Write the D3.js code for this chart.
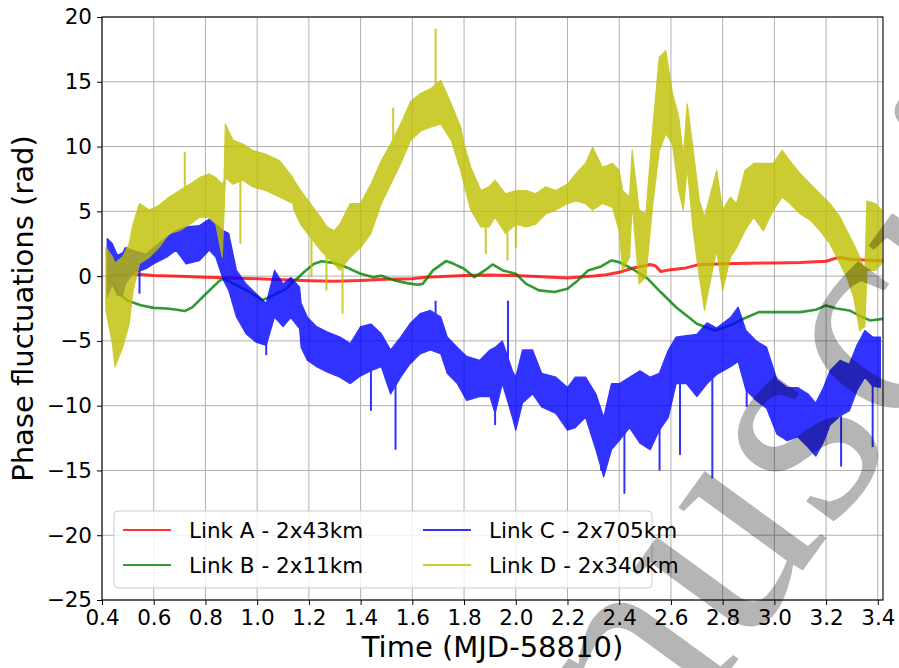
<!DOCTYPE html>
<html><head><meta charset="utf-8">
<script src="https://cdn.jsdelivr.net/npm/d3@7"></script>
<style>body{margin:0;background:#fff}svg{display:block}</style>
</head><body>
<svg id="chart" width="899" height="668"></svg>
<script>
// ---------- data ----------
const xTicks = [0.4,0.6,0.8,1.0,1.2,1.4,1.6,1.8,2.0,2.2,2.4,2.6,2.8,3.0,3.2,3.4];
const yTicks = [-25,-20,-15,-10,-5,0,5,10,15,20];
const seriesNames = ["Link A - 2x43km","Link B - 2x11km","Link C - 2x705km","Link D - 2x340km"];
const seriesColors = ["#ff0000","#008000","#0000ff","#bfbf00"];

// Link A [time, phase]
const linkA = [[0.42,0.05],[0.45,0.1],[0.5,0.12],[0.55,0.12],[0.6,0.05],[0.7,-0.02],[0.8,-0.08],[0.9,-0.15],[1.0,-0.2],[1.1,-0.28],[1.2,-0.35],[1.3,-0.4],[1.4,-0.33],[1.5,-0.25],[1.6,-0.2],[1.65,-0.08],[1.7,-0.05],[1.8,0.05],[1.9,0.08],[2.0,0.05],[2.1,-0.05],[2.2,-0.15],[2.3,0.0],[2.35,0.1],[2.4,0.3],[2.45,0.6],[2.5,0.8],[2.52,0.9],[2.54,0.8],[2.56,0.35],[2.6,0.5],[2.65,0.6],[2.7,0.85],[2.8,0.95],[2.9,1.0],[3.0,1.02],[3.1,1.05],[3.2,1.15],[3.24,1.4],[3.26,1.42],[3.3,1.28],[3.42,1.18]];

// Link B [time, phase]
const linkB = [[0.42,-0.1],[0.44,-0.6],[0.46,-1.2],[0.48,-1.6],[0.5,-1.9],[0.55,-2.25],[0.6,-2.45],[0.65,-2.5],[0.69,-2.6],[0.72,-2.7],[0.75,-2.4],[0.8,-1.4],[0.855,-0.35],[0.87,-0.2],[0.91,-0.6],[0.96,-1.1],[1.02,-1.85],[1.05,-1.6],[1.11,-1.0],[1.14,-0.4],[1.16,-0.1],[1.18,0.3],[1.22,0.95],[1.25,1.15],[1.3,1.0],[1.35,0.64],[1.4,0.18],[1.45,-0.08],[1.48,0.03],[1.53,-0.33],[1.58,-0.54],[1.62,-0.67],[1.64,-0.6],[1.68,0.44],[1.73,1.16],[1.76,0.95],[1.8,0.57],[1.84,-0.08],[1.88,0.44],[1.91,0.9],[1.95,0.44],[2.0,0.18],[2.04,-0.6],[2.09,-1.1],[2.15,-1.23],[2.2,-0.98],[2.24,-0.33],[2.28,0.44],[2.33,0.75],[2.37,1.21],[2.4,1.08],[2.45,0.57],[2.51,-0.2],[2.56,-1.23],[2.62,-2.4],[2.67,-3.2],[2.7,-3.68],[2.75,-4.06],[2.77,-4.2],[2.83,-3.8],[2.88,-3.29],[2.94,-2.78],[3.0,-2.78],[3.1,-2.78],[3.16,-2.6],[3.2,-2.26],[3.24,-2.5],[3.29,-2.65],[3.34,-3.16],[3.37,-3.42],[3.42,-3.3]];

// Link C noise band [time, low, high]
const linkCBand = [[0.42,-1.6,2.9],[0.44,-0.6,2.5],[0.46,-1.5,1.6],[0.48,-1.5,1.8],[0.49,-0.6,2.2],[0.52,0.2,2.0],[0.57,0.57,1.7],[0.6,0.95,2.2],[0.65,1.46,3.0],[0.686,2.0,3.5],[0.725,0.95,3.8],[0.777,1.2,3.9],[0.815,2.0,4.4],[0.84,1.46,4.0],[0.87,-0.33,3.5],[0.89,-1.1,3.3],[0.92,-3.16,0.44],[0.957,-4.45,-0.6],[0.996,-5.1,-1.36],[1.035,-5.35,-2.1],[1.067,-3.16,0.44],[1.1,-3.9,-0.6],[1.13,-3.2,-0.1],[1.164,-4.06,-0.85],[1.17,-5.5,-2.1],[1.194,-6.5,-3.16],[1.23,-7.0,-3.9],[1.27,-7.4,-4.3],[1.32,-7.8,-4.7],[1.36,-8.3,-5.2],[1.4,-7.7,-3.9],[1.44,-7.3,-3.7],[1.48,-7.0,-4.45],[1.516,-9.1,-5.7],[1.555,-7.8,-4.7],[1.59,-6.8,-3.7],[1.63,-6.0,-2.9],[1.67,-5.7,-2.65],[1.71,-6.0,-3.16],[1.735,-7.5,-4.7],[1.774,-8.3,-5.5],[1.81,-9.6,-6.2],[1.86,-9.3,-6.5],[1.9,-9.3,-5.7],[1.92,-10.6,-5.5],[1.948,-8.3,-5.0],[1.987,-10.9,-7.3],[2.0,-11.9,-7.8],[2.026,-9.8,-5.7],[2.065,-9.1,-5.7],[2.1,-10.1,-7.5],[2.155,-10.6,-7.8],[2.2,-11.9,-8.6],[2.23,-11.7,-7.8],[2.27,-10.9,-7.8],[2.31,-13.4,-9.1],[2.34,-15.5,-10.9],[2.37,-13.4,-8.3],[2.4,-12.7,-8.3],[2.44,-11.7,-7.8],[2.48,-12.9,-7.3],[2.52,-13.4,-7.8],[2.555,-11.9,-7.5],[2.59,-10.9,-5.7],[2.62,-8.3,-4.7],[2.66,-8.3,-4.6],[2.7,-9.3,-4.5],[2.74,-8.3,-3.6],[2.777,-7.6,-4.0],[2.83,-7.0,-3.2],[2.86,-6.6,-2.4],[2.89,-8.8,-4.2],[2.93,-9.6,-5.0],[2.97,-10.2,-5.5],[3.01,-12.2,-8.0],[3.05,-12.7,-8.6],[3.09,-12.4,-8.6],[3.13,-13.2,-9.1],[3.16,-13.9,-9.8],[3.19,-12.8,-8.6],[3.215,-11.5,-7.3],[3.254,-10.8,-6.5],[3.29,-10.4,-6.8],[3.32,-8.8,-5.3],[3.35,-7.8,-4.2],[3.38,-8.5,-4.7],[3.41,-8.6,-4.7]];
// Link C isolated spikes [time, phase]
const linkCSpikes = [[0.545,-1.36],[1.035,-6.1],[1.44,-10.4],[1.535,-13.4],[1.69,-1.9],[1.92,-11.5],[1.97,-1.9],[2.33,-15.0],[2.42,-16.8],[2.556,-15.0],[2.635,-13.8],[2.76,-15.6],[2.893,-10.1],[3.258,-14.7],[3.38,-13.2]];

// Link D noise band [time, low, high]
const linkDBand = [[0.415,-2.65,2.2],[0.44,-5.2,1.5],[0.45,-7.0,1.0],[0.48,-5.5,1.5],[0.505,-3.7,2.5],[0.52,-1.1,4.0],[0.545,0.95,5.6],[0.583,1.46,5.1],[0.62,2.2,5.45],[0.66,3.3,6.1],[0.70,3.5,6.6],[0.74,4.0,7.1],[0.777,4.55,7.6],[0.815,4.55,7.9],[0.84,4.0,7.6],[0.865,1.46,7.1],[0.872,5.0,7.4],[0.877,7.6,11.75],[0.906,7.1,10.5],[0.945,7.4,10.2],[0.983,6.9,9.7],[1.035,6.6,9.4],[1.087,6.1,8.9],[1.138,5.6,7.6],[1.142,5.1,7.4],[1.168,4.0,6.6],[1.206,3.0,5.6],[1.245,2.0,4.55],[1.27,1.46,3.8],[1.297,0.95,3.5],[1.32,0.44,4.0],[1.36,1.46,5.6],[1.4,2.2,5.6],[1.44,3.3,7.1],[1.48,5.6,8.9],[1.516,7.1,10.2],[1.555,8.7,11.75],[1.594,10.5,13.5],[1.632,11.2,14.1],[1.67,11.5,14.45],[1.71,11.75,15.1],[1.75,10.5,13.3],[1.787,8.15,11.5],[1.8,7.1,10.2],[1.826,5.1,8.4],[1.865,3.8,6.6],[1.897,3.8,6.9],[1.92,4.55,7.4],[1.96,3.3,6.35],[2.0,4.0,6.6],[2.04,3.8,6.6],[2.077,4.0,6.35],[2.116,4.8,6.9],[2.155,5.1,6.6],[2.2,5.6,7.1],[2.232,5.8,7.9],[2.27,5.6,8.7],[2.297,5.1,9.95],[2.335,5.6,8.4],[2.374,5.3,8.7],[2.4,3.5,8.15],[2.413,0.44,6.6],[2.44,1.46,6.1],[2.45,5.6,9.7],[2.477,-0.6,5.1],[2.503,-0.08,4.8],[2.53,5.6,11.5],[2.555,9.7,16.9],[2.58,11.0,17.4],[2.606,10.2,14.1],[2.63,6.6,12.3],[2.648,5.1,9.2],[2.663,8.4,13.3],[2.686,3.5,9.7],[2.71,-0.08,5.8],[2.73,-2.65,4.55],[2.75,-0.6,6.1],[2.777,2.0,8.15],[2.8,-1.1,5.1],[2.83,1.46,6.1],[2.854,2.2,5.6],[2.886,3.5,8.15],[2.92,4.55,8.7],[2.957,3.5,8.7],[2.996,5.1,8.7],[3.03,6.1,9.7],[3.06,5.6,8.9],[3.1,4.8,7.9],[3.14,4.3,7.1],[3.177,3.5,6.35],[3.215,2.5,5.6],[3.254,0.95,4.55],[3.28,-0.08,3.5],[3.306,-1.6,2.5],[3.33,-4.2,1.46],[3.35,-3.9,0.44],[3.358,0.44,5.8],[3.39,0.44,5.6],[3.415,0.95,5.1]];
// Link D isolated spikes [time, phase]
const linkDSpikes = [[0.72,9.6],[0.935,2.5],[1.21,-0.08],[1.268,-1.1],[1.33,-2.9],[1.526,13.0],[1.69,19.1],[1.884,1.7],[1.968,1.2],[2.0,2.2]];

const watermarkText = "Manuscript";

// ---------- chart ----------
const svg = d3.select("#chart");
const plot = {left:102, right:883, top:17, bottom:600};
const x = d3.scaleLinear().domain([0.4, 3.42]).range([plot.left, plot.right]);
const y = d3.scaleLinear().domain([-25, 20]).range([plot.bottom, plot.top]);
const font = "DejaVu Sans, sans-serif";
const alpha = 0.8;

svg.append("rect").attr("width",899).attr("height",668).attr("fill","#fff");
svg.append("defs").append("clipPath").attr("id","clip")
  .append("rect").attr("x",plot.left).attr("y",plot.top)
  .attr("width",plot.right-plot.left).attr("height",plot.bottom-plot.top);

// grid
const grid = svg.append("g").attr("stroke","#b0b0b0").attr("stroke-width",1);
grid.selectAll(".gx").data(xTicks).join("line")
  .attr("x1",d=>x(d)).attr("x2",d=>x(d)).attr("y1",plot.top).attr("y2",plot.bottom);
grid.selectAll(".gy").data(yTicks).join("line")
  .attr("y1",d=>y(d)).attr("y2",d=>y(d)).attr("x1",plot.left).attr("x2",plot.right);

const data = svg.append("g").attr("clip-path","url(#clip)");
const line = d3.line().x(d=>x(d[0])).y(d=>y(d[1]));
const area = d3.area().x(d=>x(d[0])).y0(d=>y(d[1])).y1(d=>y(d[2]));

data.append("path").datum(linkA).attr("d",line).attr("fill","none")
  .attr("stroke",seriesColors[0]).attr("stroke-opacity",alpha).attr("stroke-width",3).attr("stroke-linejoin","round");
data.append("path").datum(linkB).attr("d",line).attr("fill","none")
  .attr("stroke",seriesColors[1]).attr("stroke-opacity",alpha).attr("stroke-width",2.6).attr("stroke-linejoin","round");

function bandMid(band, t){
  const i = Math.max(1, Math.min(band.length-1, d3.bisector(d=>d[0]).left(band, t)));
  const a = band[i-1], b = band[i];
  const f = (t-a[0])/(b[0]-a[0]);
  return ((a[1]+a[2])/2)*(1-f) + ((b[1]+b[2])/2)*f;
}
function drawNoisy(band, spikes, color){
  const g = data.append("g").attr("opacity",alpha);
  g.append("path").datum(band).attr("d",area).attr("fill",color)
    .attr("stroke",color).attr("stroke-width",1.2).attr("stroke-linejoin","round");
  g.selectAll("line").data(spikes).join("line")
    .attr("x1",d=>x(d[0])).attr("x2",d=>x(d[0]))
    .attr("y1",d=>y(bandMid(band,d[0]))).attr("y2",d=>y(d[1]))
    .attr("stroke",color).attr("stroke-width",2);
}
drawNoisy(linkCBand, linkCSpikes, seriesColors[2]);
drawNoisy(linkDBand, linkDSpikes, seriesColors[3]);

// axes
const xAxis = d3.axisBottom(x).tickValues(xTicks).tickFormat(d3.format(".1f")).tickSize(5).tickPadding(4);
const yAxis = d3.axisLeft(y).tickValues(yTicks).tickFormat(d3.format("d")).tickSize(5).tickPadding(5);
const gx = svg.append("g").attr("transform",`translate(0,${plot.bottom})`).call(xAxis);
const gy = svg.append("g").attr("transform",`translate(${plot.left},0)`).call(yAxis);
[gx,gy].forEach(g=>{
  g.select(".domain").remove();
  g.selectAll("line").attr("stroke","#000").attr("stroke-width",1);
  g.selectAll("text").attr("font-family",font).attr("font-size",21.5).attr("fill","#000");
});
gx.selectAll("text").attr("dy","0.75em");
// spines
svg.append("rect").attr("x",plot.left).attr("y",plot.top)
  .attr("width",plot.right-plot.left).attr("height",plot.bottom-plot.top)
  .attr("fill","none").attr("stroke","#000").attr("stroke-width",1.1);

// axis labels
svg.append("text").attr("x",(plot.left+plot.right)/2).attr("y",657)
  .attr("text-anchor","middle").attr("font-family",font).attr("font-size",29)
  .text("Time (MJD-58810)");
svg.append("text").attr("transform",`translate(33,${(plot.top+plot.bottom)/2}) rotate(-90)`)
  .attr("text-anchor","middle").attr("font-family",font).attr("font-size",29)
  .text("Phase fluctuations (rad)");

// legend
const lg = svg.append("g");
lg.append("rect").attr("x",114).attr("y",511).attr("width",538).attr("height",77).attr("rx",4)
  .attr("fill","#fff").attr("fill-opacity",0.8).attr("stroke","#cccccc").attr("stroke-width",1);
const legendPos = [[123,530],[123,565],[423,530],[423,565]];
seriesNames.forEach((n,i)=>{
  const [lx,ly] = legendPos[i];
  lg.append("line").attr("x1",lx).attr("x2",lx+48).attr("y1",ly).attr("y2",ly)
    .attr("stroke",seriesColors[i]).attr("stroke-opacity",alpha).attr("stroke-width",2);
  lg.append("text").attr("x",lx+66).attr("y",ly).attr("dy","0.36em")
    .attr("font-family",font).attr("font-size",21.5).text(n);
});

// watermark
svg.append("text").attr("transform","translate(418,1100) rotate(-54)")
  .attr("font-family","Liberation Serif, serif").attr("font-size",300)
  .attr("fill","#000").attr("fill-opacity",0.29).text(watermarkText);
</script>
</body></html>
